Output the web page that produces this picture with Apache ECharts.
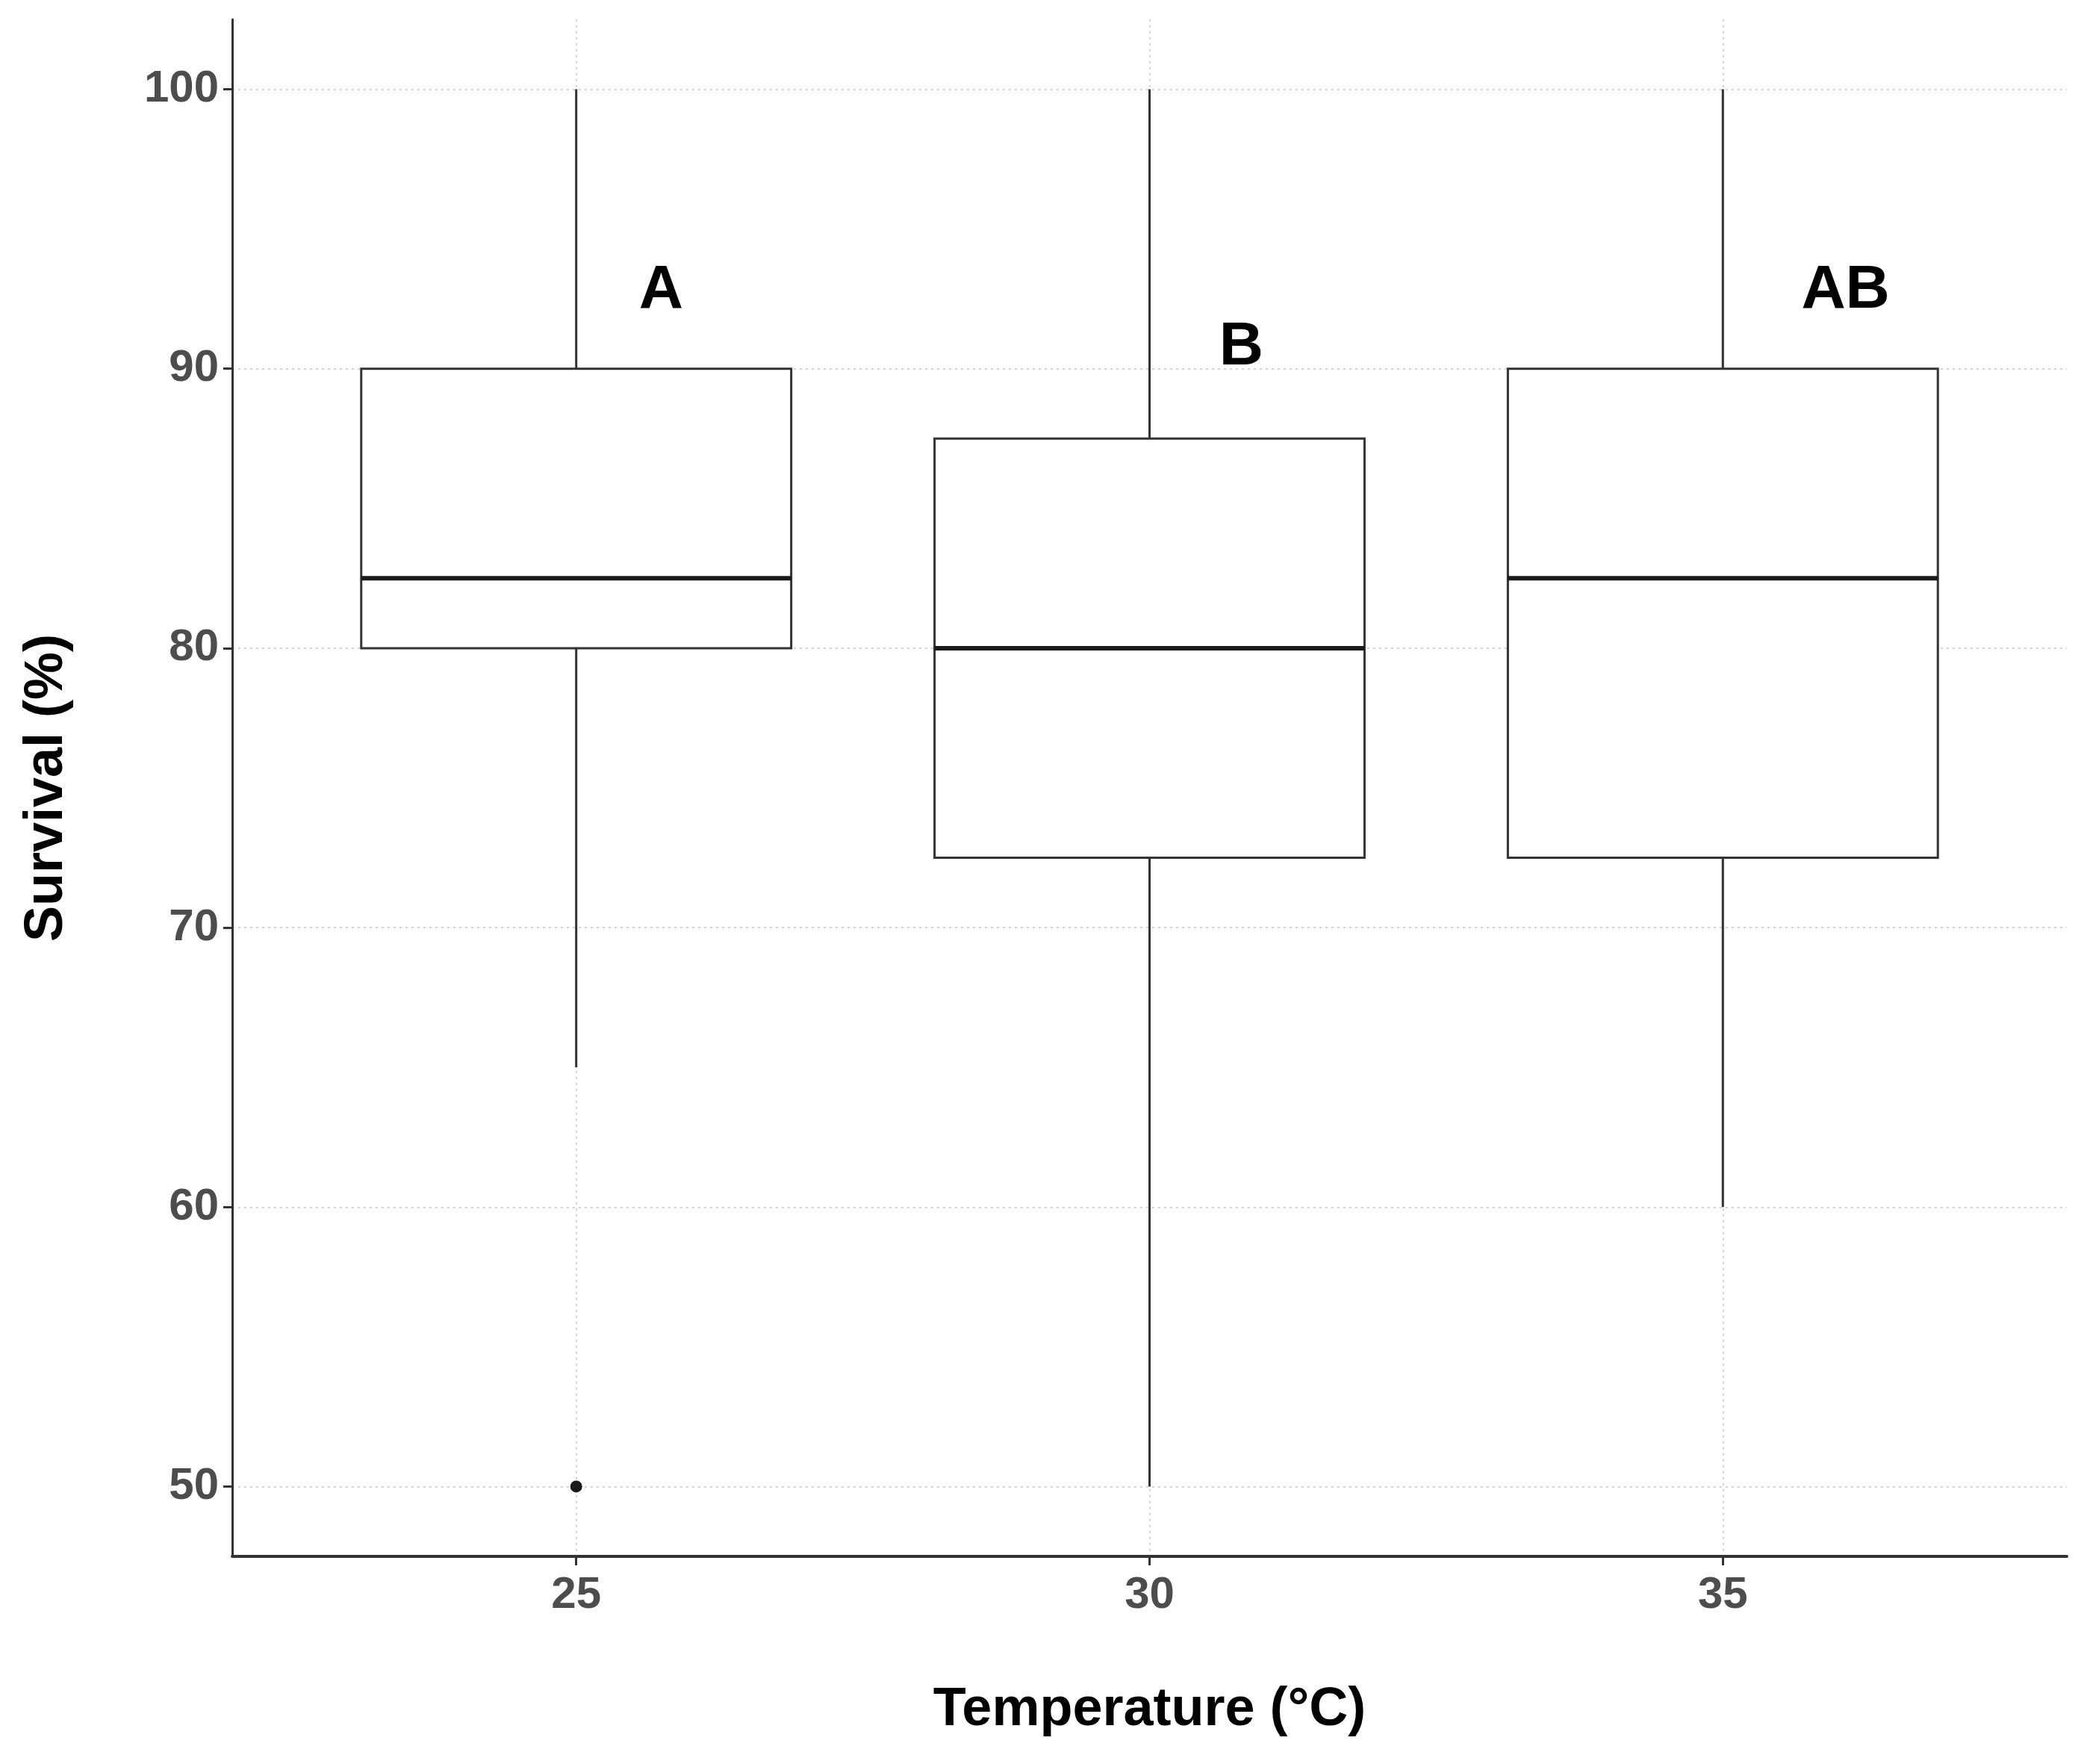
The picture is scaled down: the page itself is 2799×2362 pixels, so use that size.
<!DOCTYPE html>
<html>
<head>
<meta charset="utf-8">
<title>Survival by temperature</title>
<script src="https://cdn.jsdelivr.net/npm/echarts@6/dist/echarts.min.js"></script>
<style>
  html, body { margin: 0; padding: 0; background: #fff; }
  #chart { width: 2799px; height: 2362px; }
</style>
</head>
<body>
<div id="chart"></div>
<script>
// 数据：温度分组的箱线图
var temperatures = [25, 30, 35];
var whiskerLow = [65, 50, 60];
var q1 = [80, 72.5, 72.5];
var medians = [82.5, 80, 82.5];
var q3 = [90, 87.5, 90];
var whiskerHigh = [100, 100, 100];
var outliers = [[25, 50]];
// 显著性字母
var letters = ['A', 'B', 'AB'];
var letterX = [25.74, 30.8, 36.07];
var letterY = [92.8, 90.75, 92.8];
var xTicks = [25, 30, 35];
var yTicks = [50, 60, 70, 80, 90, 100];

var boxWidth = 3.75;
var fontName = '"Liberation Sans", Arial, sans-serif';

var boxData = [];
for (var i = 0; i < temperatures.length; i++) {
	boxData.push([temperatures[i], whiskerLow[i], q1[i], medians[i], q3[i], whiskerHigh[i]]);
}
var letterData = [];
for (var j = 0; j < letters.length; j++) {
	letterData.push({ name: letters[j], value: [letterX[j], letterY[j]] });
}

function renderBox(params, api) {
	var x = api.value(0);
	var half = api.size([boxWidth, 0])[0] / 2;
	var pLow = api.coord([x, api.value(1)]);
	var pQ1 = api.coord([x, api.value(2)]);
	var pMed = api.coord([x, api.value(3)]);
	var pQ3 = api.coord([x, api.value(4)]);
	var pHigh = api.coord([x, api.value(5)]);
	var thin = { stroke: '#333333', lineWidth: 3 };
	return {
		type: 'group',
		children: [
			{ type: 'line', shape: { x1: pHigh[0], y1: pHigh[1], x2: pQ3[0], y2: pQ3[1] }, style: thin },
			{ type: 'line', shape: { x1: pQ1[0], y1: pQ1[1], x2: pLow[0], y2: pLow[1] }, style: thin },
			{
				type: 'rect',
				shape: { x: pQ3[0] - half, y: pQ3[1], width: half * 2, height: pQ1[1] - pQ3[1] },
				style: { stroke: '#333333', lineWidth: 3, fill: '#ffffff' }
			},
			{
				type: 'line',
				shape: { x1: pMed[0] - half, y1: pMed[1], x2: pMed[0] + half, y2: pMed[1] },
				style: { stroke: '#1a1a1a', lineWidth: 6 }
			}
		]
	};
}

var chart = echarts.init(document.getElementById('chart'));
var gridLine = { show: true, lineStyle: { color: '#d4d4d4', width: 2, type: [3, 5] } };
var option = {
	animation: false,
	backgroundColor: '#ffffff',
	grid: { left: 311, right: 31, top: 26, bottom: 278 },
	xAxis: {
		type: 'value',
		min: 22,
		max: 38,
		name: 'Temperature (°C)',
		nameLocation: 'middle',
		nameGap: 170,
		nameTextStyle: { fontSize: 72, fontWeight: 'bold', color: '#000', fontFamily: fontName },
		axisLine: { show: true, lineStyle: { color: '#333333', width: 4 } },
		axisTick: { show: true, customValues: xTicks, length: 12, lineStyle: { color: '#333333', width: 3 } },
		axisLabel: { customValues: xTicks, fontSize: 60, fontWeight: 'bold', color: '#4d4d4d', margin: 22, fontFamily: fontName },
		splitLine: gridLine
	},
	yAxis: {
		type: 'value',
		min: 47.5,
		max: 102.5,
		name: 'Survival (%)',
		nameLocation: 'middle',
		nameGap: 212,
		nameTextStyle: { fontSize: 72, fontWeight: 'bold', color: '#000', fontFamily: fontName },
		axisLine: { show: true, lineStyle: { color: '#333333', width: 3 } },
		axisTick: { show: true, customValues: yTicks, length: 12, lineStyle: { color: '#333333', width: 3 } },
		axisLabel: { customValues: yTicks, fontSize: 60, fontWeight: 'bold', color: '#4d4d4d', margin: 18, fontFamily: fontName },
		splitLine: gridLine
	},
	series: [
		{
			type: 'custom',
			renderItem: renderBox,
			encode: { x: 0, y: [1, 2, 3, 4, 5] },
			data: boxData,
			z: 3
		},
		{
			type: 'scatter',
			data: outliers,
			symbolSize: 16,
			itemStyle: { color: '#1a1a1a', opacity: 1 },
			z: 4
		},
		{
			type: 'scatter',
			data: letterData,
			symbolSize: 0,
			itemStyle: { opacity: 1 },
			label: {
				show: true,
				position: 'inside',
				formatter: '{b}',
				fontSize: 82,
				fontWeight: 'bold',
				color: '#000000',
				opacity: 1,
				fontFamily: fontName
			},
			z: 5
		}
	]
};
chart.setOption(option);
</script>
</body>
</html>
